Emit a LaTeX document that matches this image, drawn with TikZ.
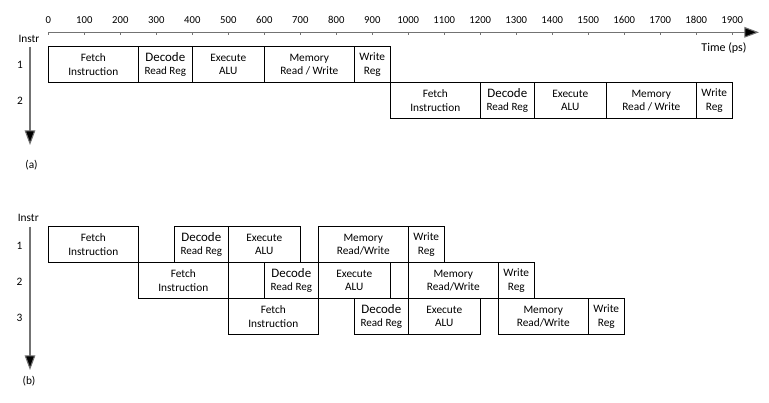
\documentclass[tikz,border=0pt]{standalone}
\usepackage{fontspec}
\setmainfont{Carlito}
\usepackage{tikz}
\usetikzlibrary{arrows.meta}
\newcommand{\tx}[1]{48.3+0.36*#1}
\newcommand{\rowH}{36}
\newcommand{\smallfont}{\fontsize{8.5}{10}\selectfont}
\newcommand{\dec}{{\fontsize{9.7}{10}\selectfont Decode}\\{\fontsize{8.3}{10}\selectfont Read Reg}}
\newcommand{\stage}[5]{\node[stagebox,minimum width={(#4-#3)*0.27pt}] (#1) at ({\tx{#3}},#2) {#5};}
\tikzset{
  stagebox/.style={draw,anchor=north west,line width=0.8pt,minimum height=27pt,
    inner sep=0pt,outer sep=0pt,align=center,font=\smallfont},
  axisline/.style={draw=black!55,line width=0.8pt},
  bigtip/.style={-{Triangle[length=11pt,width=8pt,fill=black]}},
  lbl/.style={inner sep=0pt,font=\smallfont}
}
\begin{document}
\begin{tikzpicture}[x=0.75pt,y=-0.75pt]
\useasboundingbox (0,0) rectangle (769,403);
% time axis
\coordinate (t0) at ({\tx{0}},32.3);
\coordinate (tend) at (759,32.3);
\draw[axisline,bigtip] (t0) -- (tend);
\foreach \t in {0,100,...,1900}{
  \draw[axisline,line width=0.6pt] ({\tx{\t}},32.3) -- ({\tx{\t}},35.5);
  \node[lbl,font=\fontsize{8}{9}\selectfont] (tl\t) at ({\tx{\t}},20) {\t};
}
\node[lbl,font=\fontsize{9}{10}\selectfont] (timelbl) at (724,48) {Time (ps)};

% (a) single cycle
\node[lbl] (instra) at (29,39) {Instr};
\coordinate (va) at (30,46.7);
\coordinate (vaend) at (30,145);
\draw[axisline,bigtip] (va) -- (vaend);
\node[lbl] (ra1) at (20,65) {1};
\node[lbl] (ra2) at (20,101) {2};
\node[lbl] (capa) at (31.5,165) {(a)};
\stage{a1f}{46.7}{0}{250}{Fetch\\Instruction}
\stage{a1d}{46.7}{250}{400}{\dec}
\stage{a1e}{46.7}{400}{600}{Execute\\ALU}
\stage{a1m}{46.7}{600}{850}{Memory\\Read / Write}
\stage{a1w}{46.7}{850}{950}{Write\\Reg}
\stage{a2f}{82.7}{950}{1200}{Fetch\\Instruction}
\stage{a2d}{82.7}{1200}{1350}{\dec}
\stage{a2e}{82.7}{1350}{1550}{Execute\\ALU}
\stage{a2m}{82.7}{1550}{1800}{Memory\\Read / Write}
\stage{a2w}{82.7}{1800}{1900}{Write\\Reg}

% (b) pipelined
\node[lbl] (instrb) at (28.3,218.3) {Instr};
\coordinate (vb) at (30,226.7);
\coordinate (vbend) at (30,370);
\draw[axisline,bigtip] (vb) -- (vbend);
\node[lbl] (rb1) at (19.5,245.7) {1};
\node[lbl] (rb2) at (19.5,281.7) {2};
\node[lbl] (rb3) at (19.5,317.7) {3};
\node[lbl] (capb) at (29,381) {(b)};
\stage{b1f}{226.7}{0}{250}{Fetch\\Instruction}
\stage{b1d}{226.7}{350}{500}{\dec}
\stage{b1e}{226.7}{500}{700}{Execute\\ALU}
\stage{b1m}{226.7}{750}{1000}{Memory\\Read/Write}
\stage{b1w}{226.7}{1000}{1100}{Write\\Reg}
\stage{b2f}{262.7}{250}{500}{Fetch\\Instruction}
\stage{b2d}{262.7}{600}{750}{\dec}
\stage{b2e}{262.7}{750}{950}{Execute\\ALU}
\stage{b2m}{262.7}{1000}{1250}{Memory\\Read/Write}
\stage{b2w}{262.7}{1250}{1350}{Write\\Reg}
\stage{b3f}{298.7}{500}{750}{Fetch\\Instruction}
\stage{b3d}{298.7}{850}{1000}{\dec}
\stage{b3e}{298.7}{1000}{1200}{Execute\\ALU}
\stage{b3m}{298.7}{1250}{1500}{Memory\\Read/Write}
\stage{b3w}{298.7}{1500}{1600}{Write\\Reg}
\end{tikzpicture}
\end{document}
